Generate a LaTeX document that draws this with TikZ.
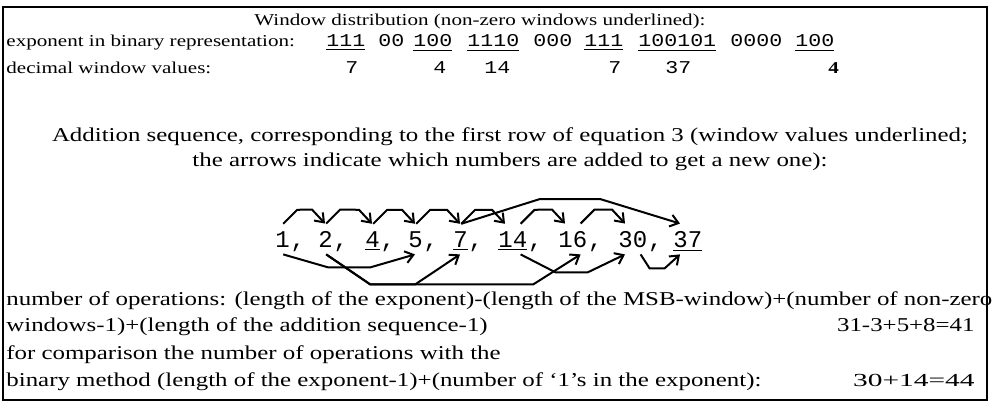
\documentclass[tikz,border=0pt]{standalone}
\usepackage{fontspec}
\setmainfont[FakeStretch=1.27]{Liberation Serif}
\setmonofont[FakeStretch=1.2]{Liberation Mono}
\newfontfamily\seqfont{Liberation Mono}
\newfontfamily\widefont[FakeStretch=1.6]{Liberation Serif}
\usetikzlibrary{arrows.meta,calc,positioning}

\begin{document}
\begin{tikzpicture}[x=0.5pt,y=-0.5pt,>={Straight Barb[length=4pt,width=6pt]},
  every node/.style={inner sep=0pt,anchor=base west,font=\fontsize{8.3}{10}\selectfont},
  para/.style={font=\fontsize{9.8}{12}\selectfont},
  bits/.style={font=\fontsize{9}{10}\ttfamily},
  num/.style={font=\fontsize{12}{12}\seqfont,inner ysep=3.5pt,text depth=0pt},
  link/.style={->,line width=1pt}]
\useasboundingbox (0,0) rectangle (994,417);
\draw[line width=1pt] (3,7) rectangle (987,400);
% window distribution
\node[anchor=base] (title) at (480,26) {Window distribution (non-zero windows underlined):};
\node (binlabel) at (6,47) {exponent in binary representation:};
\node (declabel) at (6,74) {decimal window values:};
\foreach \x/\w in {326/\underline{111},378/00,413/\underline{100},467/\underline{1110},
  533/000,584/\underline{111},638/\underline{100101},730/0000,795/\underline{100}}
  \node[bits] at (\x,47) {\w};
\foreach \x/\d in {345/7,433/4,484/14,608/7,665/37}
  \node[bits] at (\x,74) {\d};
\node (declast) at (828,74) {\textbf{4}};
% addition sequence
\node[para,anchor=base] (seqtitle) at (510,141) {Addition sequence, corresponding to the first row of equation 3 (window values underlined;};
\node[para,anchor=base] (seqtitle2) at (510,166) {the arrows indicate which numbers are added to get a new one):};
\foreach \v/\x in {1/275,2/318,5/408,16/558,30/618}
  \node[num] (n\v) at (\x,247) {\v};
\foreach \v/\x in {4/365,7/453,14/498,37/673}
  \node[num] (n\v) at (\x,247) {\underline{\v}};
\foreach \v in {1,2,4,5,7,14,16,30}
  \node[num] at (n\v.base east) {,};
% upper arrows
\foreach \a/\b in {1/2,2/4,4/5,5/7,7/14,14/16,16/30}
  \draw[link] ($(n\a.north east)+(-7,0)$) -- ++(14,-14) -- ($(n\b.north west)+(-6,-14)$) -- ($(n\b.north west)+(7,0)$);
\draw[link] ($(n7.north east)+(-7,0)$) -- (540,199) -- (600,199) -- ($(n37.north west)+(7,0)$);
% lower arrows
\draw[link] ($(n1.south east)+(-7,0)$) -- ++(45,13) -- ++(42,0) -- ($(n5.south west)+(7,0)$);
\draw[link] ($(n2.south east)+(-7,0)$) -- ++(44,30) -- ++(45,0) -- ($(n7.south west)+(7,0)$);
\draw[link] ($(n2.south east)+(-7,0)$) -- ++(44,30) -- ++(163,0) -- ($(n16.south east)+(-7,0)$);
\draw[link] ($(n14.south east)+(-7,0)$) -- ++(35,18) -- ++(32,0) -- ($(n30.south west)+(7,0)$);
\draw[link] ($(n30.south east)+(-7,0)$) -- ++(9,14) -- ++(15,0) -- ($(n37.south west)+(7,0)$);
% operation count
\node[para] (ops1) at (6,305) {number of operations: (length of the exponent)-(length of the MSB-window)+(number of non-zero};
\node[para] (ops2) at (6,331) {windows-1)+(length of the addition sequence-1)};
\node[para,anchor=base east] (res1) at (975,331) {31-3+5+8=41};
\node[para] (cmp1) at (6,359) {for comparison the number of operations with the};
\node[para] (cmp2) at (6,386) {binary method (length of the exponent-1)+(number of `1's in the exponent):};
\node[font=\fontsize{9.2}{10}\widefont,anchor=base east] (res2) at (975,386) {30+14=44};
\end{tikzpicture}
\end{document}
